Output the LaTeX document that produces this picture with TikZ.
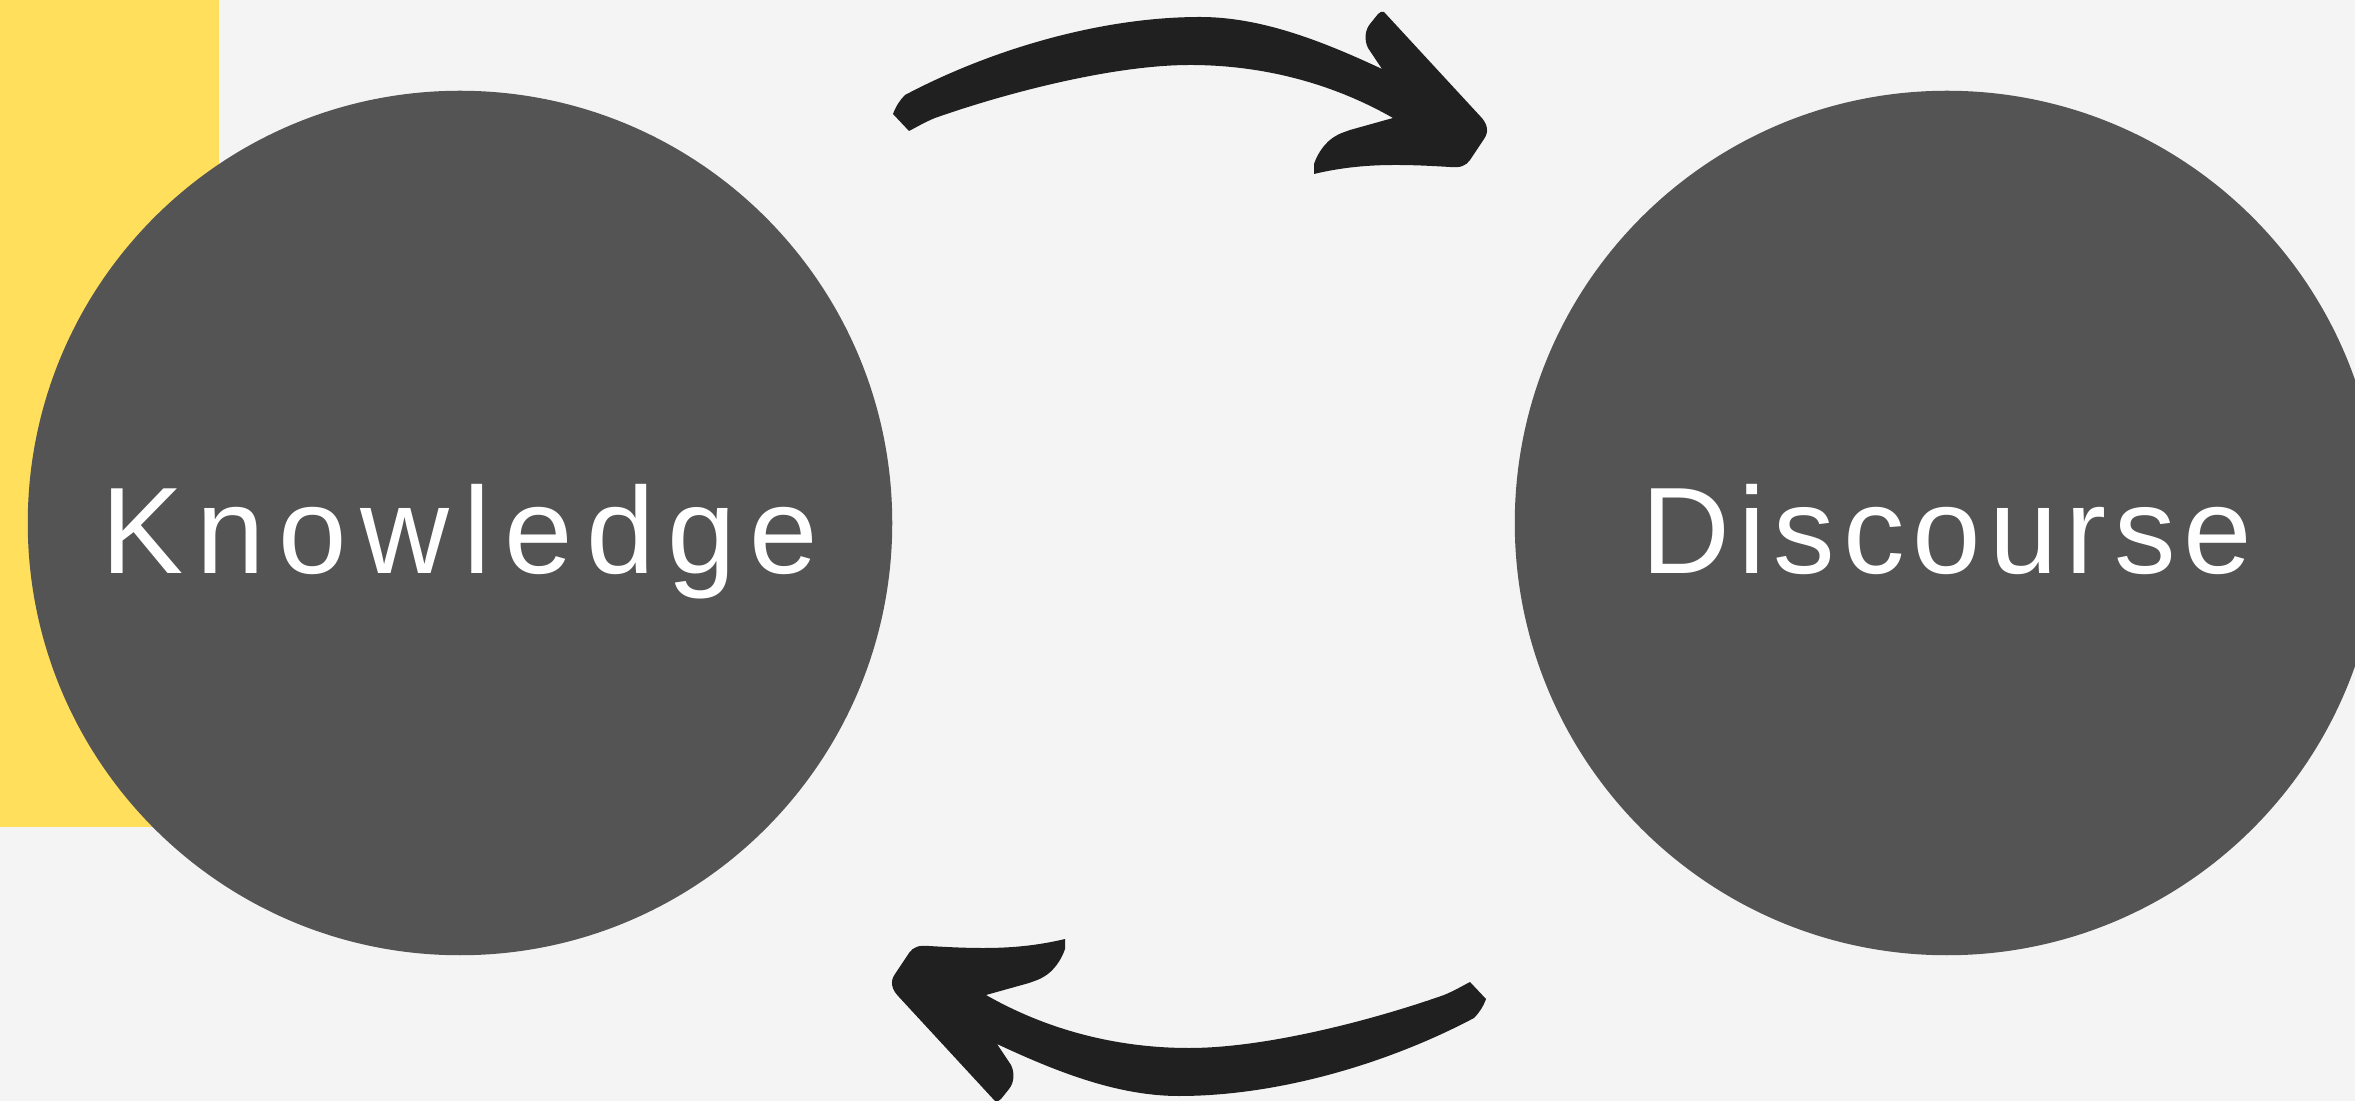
\documentclass[tikz,border=0pt]{standalone}
\usepackage{fontspec}
\setmainfont{Liberation Sans}
\newfontfamily\knowfont[LetterSpace = 11]{Liberation Sans}
\newfontfamily\discfont[LetterSpace = 6.5]{Liberation Sans}
\definecolor{pagegray}{HTML}{F4F4F4}
\definecolor{baryellow}{HTML}{FFDF5B}
\definecolor{discgray}{HTML}{545454}
\definecolor{arrowblack}{HTML}{202020}
\begin{document}
\begin{tikzpicture}[x = .01cm, y = -.01cm,
		bubble/.style = {circle, fill = discgray, minimum size = 8.64cm, inner sep = 0pt, text = white,
			text height = 1cm, text depth = 0pt, font = \fontsize{35}{40}\selectfont},
		bent/.style = {fill = arrowblack}]
	\useasboundingbox (0,0) rectangle (2355,1101);
	\clip (0,0) rectangle (2355,1101);
	\fill[pagegray] (0,0) rectangle (2355,1101);
	\fill[baryellow] (0,0) rectangle (219,827);
	\node[bubble] (know) at (460,523) {\knowfont Knowledge};
	\node[bubble] (disc) at (1947,523) {\discfont Discourse};
	% the two bent arrows, the second one turned half round
	\foreach \a in {0,180}
		\fill[bent, rotate around = {\a:(1189.5,556.5)}] (909,131) -- (893,114)
			.. controls (896,106) and (900,100) .. (905,95)
			.. controls (990,50) and (1100,17) .. (1200,17)
			.. controls (1260,17) and (1320,40) .. (1382,69)
			-- (1368,48) .. controls (1364,40) and (1365,30) .. (1370,24)
			-- (1378,14) .. controls (1380,12) and (1382,11) .. (1384,12)
			-- (1480,116) .. controls (1488,124) and (1489,132) .. (1484,139)
			-- (1470,160) .. controls (1466,166) and (1460,168) .. (1450,167)
			.. controls (1400,164) and (1360,163) .. (1314,174)
			-- (1314,164) .. controls (1318,152) and (1326,142) .. (1334,137)
			.. controls (1340,133) and (1345,132) .. (1350,130)
			-- (1393,118)
			.. controls (1330,82) and (1260,65) .. (1190,65)
			.. controls (1110,65) and (1000,95) .. (935,118)
			.. controls (925,122) and (915,128) .. cycle;
\end{tikzpicture}
\end{document}
